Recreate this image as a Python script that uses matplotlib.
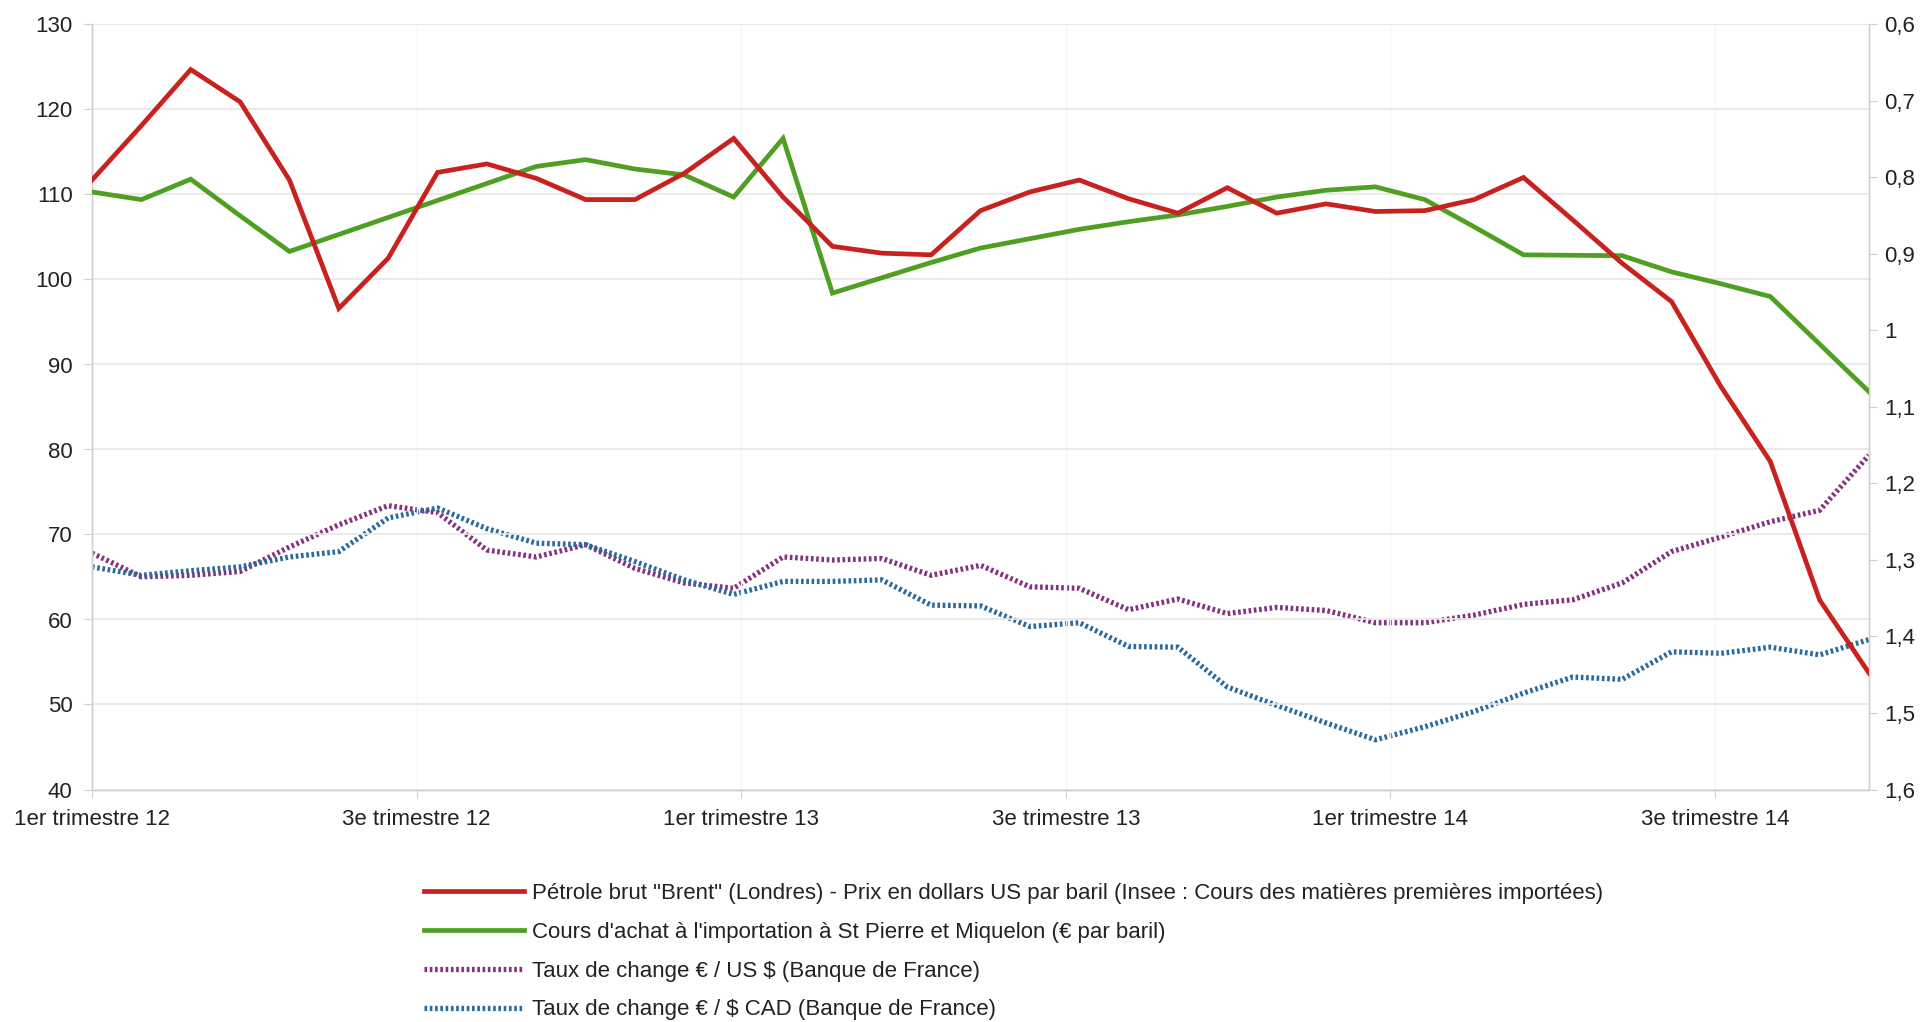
import matplotlib
matplotlib.use("Agg")
import matplotlib.pyplot as plt
from matplotlib.ticker import FixedLocator

plt.rcParams['font.family'] = ['Liberation Sans', 'DejaVu Sans']

# Monthly points, Jan 2012 .. Jan 2015
brent = [111.7, 118.1, 124.7, 120.9, 111.7, 96.6, 102.5, 112.6, 113.6, 111.9, 109.4, 109.4,
         112.5, 116.6, 109.7, 103.9, 103.1, 102.9, 108.1, 110.3, 111.7, 109.5, 107.8, 110.8,
         107.8, 108.9, 108.0, 108.1, 109.4, 112.0, 107.0, 101.9, 97.4, 87.4, 78.6, 62.3, 53.7]
spm = [110.3, 109.4, 111.8, 107.5, 103.3, 105.3, 107.3, 109.3, 111.3, 113.3, 114.1, 113.0,
       112.3, 109.7, 116.6, 98.4, 100.2, 102.0, 103.7, 104.8, 105.9, 106.8, 107.6, 108.6,
       109.7, 110.5, 110.9, 109.4, 106.2, 102.9, 102.85, 102.8, 100.9, 99.5, 98.0, 92.4, 86.8]
eur_usd = [1.291, 1.322, 1.320, 1.315, 1.283, 1.254, 1.229, 1.238, 1.287, 1.296, 1.280, 1.311,
           1.330, 1.337, 1.296, 1.300, 1.298, 1.320, 1.307, 1.335, 1.337, 1.365, 1.351, 1.370,
           1.362, 1.366, 1.382, 1.382, 1.372, 1.358, 1.352, 1.330, 1.289, 1.270, 1.250, 1.235, 1.163]
eur_cad = [1.309, 1.320, 1.314, 1.309, 1.296, 1.289, 1.245, 1.232, 1.259, 1.278, 1.280, 1.302,
           1.326, 1.345, 1.328, 1.328, 1.326, 1.359, 1.360, 1.387, 1.382, 1.413, 1.414, 1.466,
           1.490, 1.513, 1.535, 1.518, 1.498, 1.474, 1.453, 1.456, 1.420, 1.422, 1.414, 1.424, 1.404]

x_labels = ["1er trimestre 12", "3e trimestre 12", "1er trimestre 13",
            "3e trimestre 13", "1er trimestre 14", "3e trimestre 14"]
label_step = 6.576

left_ticks = [40, 50, 60, 70, 80, 90, 100, 110, 120, 130]
right_ticks = [0.6, 0.7, 0.8, 0.9, 1.0, 1.1, 1.2, 1.3, 1.4, 1.5, 1.6]
right_labels = ["0,6", "0,7", "0,8", "0,9", "1", "1,1", "1,2", "1,3", "1,4", "1,5", "1,6"]

legend_labels = [
    'Pétrole brut "Brent" (Londres) - Prix en dollars US par baril (Insee : Cours des matières premières importées)',
    "Cours d'achat à l'importation à St Pierre et Miquelon (€ par baril)",
    "Taux de change € / US $ (Banque de France)",
    "Taux de change € / $ CAD (Banque de France)",
]

RED = "#c9211e"
GREEN = "#4e9f22"
PURPLE = "#86307f"
BLUE = "#2a6a9e"
GRID = "#e6e6e6"
AX = "#d0d0d0"
TXT = "#222222"

fig = plt.figure(figsize=(19.25, 10.22), dpi=100)
ax = fig.add_axes([92/1925, 1 - 789.5/1022, (1869-92)/1925, (789.5-24.5)/1022])
ax2 = ax.twinx()

x = list(range(len(brent)))
fs = 16

l1, = ax.plot(x, brent, color=RED, lw=3.4, solid_joinstyle='miter', zorder=4)
l2, = ax.plot(x, spm, color=GREEN, lw=3.4, solid_joinstyle='miter', zorder=3)
l3, = ax2.plot(x, eur_usd, color=PURPLE, lw=3.8, linestyle=(0, (0.5, 0.5)), dash_capstyle='butt')
l4, = ax2.plot(x, eur_cad, color=BLUE, lw=3.8, linestyle=(0, (0.5, 0.5)), dash_capstyle='butt')

ax.set_xlim(0, len(brent) - 1)
ax.set_ylim(40, 130)
ax2.set_ylim(1.6, 0.6)

ax.yaxis.set_major_locator(FixedLocator(left_ticks))
ax.set_yticklabels([str(t) for t in left_ticks])
ax2.yaxis.set_major_locator(FixedLocator(right_ticks))
ax2.set_yticklabels(right_labels)

xt = [i * label_step for i in range(len(x_labels))]
ax.set_xticks(xt)
ax.set_xticklabels(x_labels)

ax.grid(axis='y', color=GRID, lw=1.2)
ax.grid(axis='x', color="#f5f5f5", lw=1.0)
ax.set_axisbelow(True)

for a in (ax, ax2):
    for s in a.spines.values():
        s.set_color(AX)
        s.set_linewidth(1.0)
    a.spines['top'].set_visible(False)
ax.tick_params(axis='both', colors=AX, labelcolor=TXT, labelsize=fs, length=6)
ax.tick_params(axis='y', pad=8)
ax.tick_params(axis='x', pad=8)
ax2.tick_params(axis='y', colors=AX, labelcolor=TXT, labelsize=fs, length=6, pad=5)

ax.set_zorder(ax2.get_zorder() + 1)
ax.patch.set_visible(False)

fig.legend([l1, l2, l3, l4], legend_labels, loc='upper left',
           bbox_to_anchor=(424/1925, 1 - 883/1022), frameon=False,
           fontsize=fs, handlelength=4.5, handletextpad=0.35, labelspacing=0.8,
           borderpad=0, borderaxespad=0, labelcolor=TXT)

fig.savefig("out.png", dpi=100, facecolor='white')
